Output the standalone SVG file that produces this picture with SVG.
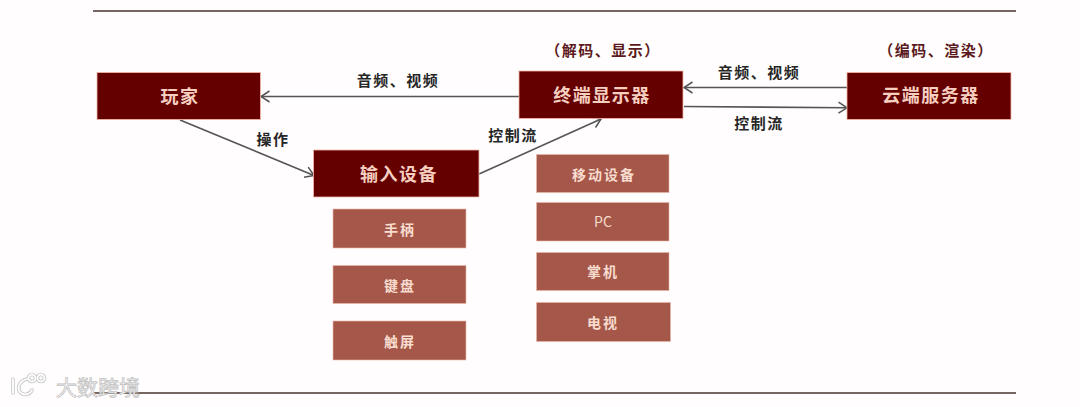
<svg xmlns="http://www.w3.org/2000/svg" width="1080" height="407" viewBox="0 0 1080 407">
<style>
text{font-family:"Noto Sans CJK SC","Noto Sans",sans-serif;text-anchor:middle;dominant-baseline:central}
.main rect{fill:#650000;stroke:#f0b8a8;stroke-width:.8}
.main text{fill:#f6cfc0;font-size:18px;font-weight:700;letter-spacing:1.5px}
.sub rect{fill:#a5584a;stroke:#eab8a8;stroke-width:.6}
.sub text{fill:#f8dccf;font-size:14px;font-weight:700;letter-spacing:2px}
.lab{fill:#262626;font-size:15px;font-weight:700;letter-spacing:1.5px}
.note{fill:#5c1a20;font-size:15px;font-weight:700;letter-spacing:1.5px}
.rule{stroke:#4a332e;stroke-width:1.5;fill:none}
.conn{stroke:#555;stroke-width:1.6;fill:none;marker-end:url(#arr)}
.wm{fill:#fff;stroke:#c2c2c2;stroke-width:.8;font-size:21px;font-weight:400}
.wmg{fill:none;stroke:#c8c8c8;stroke-width:3.6;stroke-linecap:round}
.wml{fill:none;stroke:#fff;stroke-width:1.8;stroke-linecap:round}
</style>
<defs>
<marker id="arr" markerUnits="userSpaceOnUse" markerWidth="12" markerHeight="14" refX="10.5" refY="7" orient="auto">
<path d="M2 1.5 L10.500 7 L2 12.500" fill="none" stroke="#555" stroke-width="1.5"/>
</marker>
</defs>
<rect width="1080" height="407" fill="#fffdfd"/>
<path class="rule" d="M93 11H1016"/>
<path class="rule" d="M93 393H1016"/>
<g id="connectors">
<path class="conn" d="M519 96.500H261"/>
<path class="conn" d="M180 120L314 175.500"/>
<path class="conn" d="M479 174L601 119"/>
<path class="conn" d="M847 87.500H684"/>
<path class="conn" d="M684 106.500L847 107.800"/>
</g>
<g id="edge-labels">
<text class="lab" x="398" y="79">音频、视频</text>
<text class="lab" x="273" y="138">操作</text>
<text class="lab" x="513" y="134">控制流</text>
<text class="lab" x="759" y="71">音频、视频</text>
<text class="lab" x="759" y="122">控制流</text>
</g>
<g id="player" class="main"><rect x="97" y="72.500" width="163.500" height="47"/><text x="180" y="95">玩家</text></g>
<g id="terminal" class="main"><rect x="519" y="71" width="164" height="47.500"/><text x="602" y="94">终端显示器</text></g>
<g id="cloud" class="main"><rect x="847" y="72.500" width="164" height="47"/><text x="931" y="94">云端服务器</text></g>
<g id="input" class="main"><rect x="313.500" y="150" width="165.500" height="47"/><text x="399" y="173">输入设备</text></g>
<g id="terminal-note"><text class="note" x="603" y="49">（解码、显示）</text></g>
<g id="cloud-note"><text class="note" x="936" y="49">（编码、渲染）</text></g>
<g id="gamepad" class="sub"><rect x="333" y="209" width="133" height="39"/><text x="400" y="228.500">手柄</text></g>
<g id="keyboard" class="sub"><rect x="333" y="265.500" width="133" height="38"/><text x="400" y="284.500">键盘</text></g>
<g id="touch" class="sub"><rect x="333" y="321" width="133" height="39"/><text x="400" y="340.500">触屏</text></g>
<g id="mobile" class="sub"><rect x="536.500" y="154.500" width="132.500" height="38"/><text x="604" y="173.500">移动设备</text></g>
<g id="pc" class="sub"><rect x="536.500" y="202.500" width="132.500" height="38.500"/><text x="603" y="221" style="font-weight:400;letter-spacing:0">PC</text></g>
<g id="handheld" class="sub"><rect x="536.500" y="252.500" width="132.500" height="38"/><text x="603" y="271">掌机</text></g>
<g id="tv" class="sub"><rect x="536.500" y="302.500" width="134" height="39"/><text x="603" y="321.500">电视</text></g>
<g id="watermark">
<path id="wm-halo" class="wmg" d="M13 379V393M27 379C19 381 17 388 20 392C23 396 30 395 32 390"/>
<circle class="wmg" cx="32" cy="378" r="3.500"/><circle class="wmg" cx="41" cy="378" r="3.500"/>
<path class="wml" d="M13 379V393M27 379C19 381 17 388 20 392C23 396 30 395 32 390"/>
<circle class="wml" cx="32" cy="378" r="3.500"/><circle class="wml" cx="41" cy="378" r="3.500"/>
<text class="wm" x="98" y="386" style="letter-spacing:0">大数跨境</text>
</g>
</svg>
